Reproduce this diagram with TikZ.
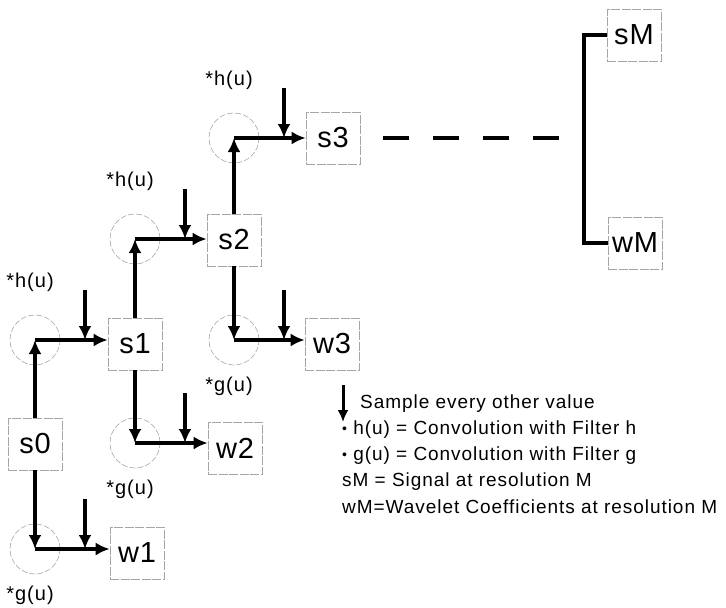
\documentclass[tikz,border=0pt]{standalone}
\usepackage{fontspec}
\setmainfont{Liberation Sans}
\newfontfamily\legendfont[LetterSpace=5]{Liberation Sans}
\newfontfamily\boxfont[LetterSpace=3]{Liberation Sans}
\usetikzlibrary{arrows.meta,positioning}

\begin{document}
\begin{tikzpicture}[
  x=1pt,y=-1pt,
  every node/.style={inner sep=0pt},
  box/.style={draw=gray!70,dash pattern=on 9pt off 1.5pt,line width=0.6pt,
    minimum width=54pt,minimum height=52pt,
    font=\boxfont\fontsize{29}{32}\selectfont},
  filt/.style={circle,draw=gray!70,dash pattern=on 6pt off 2pt,line width=0.6pt,
    minimum size=50pt},
  lbl/.style={font=\legendfont\fontsize{20}{22}\selectfont},
  legend/.style={anchor=west,font=\legendfont\fontsize{19}{21}\selectfont},
  arrow/.style={-{Latex[length=14pt,width=13pt]},line width=4.2pt},
  conn/.style={line width=4.2pt},
  gap/.style={line width=4.2pt,dash pattern=on 26pt off 24pt}
]
  \useasboundingbox (0,0) rectangle (726,608);

  % signals and wavelet coefficients
  \node[box] (s0) at (35,444) {s0};
  \node[box] (s1) at (135,344) {s1};
  \node[box] (s2) at (234,240) {s2};
  \node[box] (s3) at (333,138) {s3};
  \node[box] (w1) at (137,553) {w1};
  \node[box] (w2) at (235,448) {w2};
  \node[box] (w3) at (332,344) {w3};
  \node[box] (sM) at (634,35) {sM};
  \node[box] (wM) at (635,243) {wM};

  % filters
  \node[filt] (h1) at (35,340) {};
  \node[filt] (g1) at (35,549) {};
  \node[filt] (h2) at (135,239) {};
  \node[filt] (g2) at (135,443) {};
  \node[filt] (h3) at (234,138) {};
  \node[filt] (g3) at (234,340) {};

  \node[lbl,above=23pt of h1,xshift=-5pt] (h1lbl) {*h(u)};
  \node[lbl,above=23pt of h2,xshift=-5pt] (h2lbl) {*h(u)};
  \node[lbl,above=23pt of h3,xshift=-5pt] (h3lbl) {*h(u)};
  \node[lbl,below=12pt of g1,xshift=-5pt] (g1lbl) {*g(u)};
  \node[lbl,below=12pt of g2,xshift=-5pt] (g2lbl) {*g(u)};
  \node[lbl,below=12pt of g3,xshift=-5pt] (g3lbl) {*g(u)};

  \draw[arrow] (s0) -- (h1.center);
  \draw[arrow] (h1.center) -- (h1.center -| s1.west);
  \draw[arrow] (s0) -- (g1.center);
  \draw[arrow] (g1.center) -- (g1.center -| w1.west);
  \draw[arrow] (s1) -- (h2.center);
  \draw[arrow] (h2.center) -- (h2.center -| s2.west);
  \draw[arrow] (s1) -- (g2.center);
  \draw[arrow] (g2.center) -- (g2.center -| w2.west);
  \draw[arrow] (s2) -- (h3.center);
  \draw[arrow] (h3.center) -- (h3.center -| s3.west);
  \draw[arrow] (s2) -- (g3.center);
  \draw[arrow] (g3.center) -- (g3.center -| w3.west);

  % downsampling
  \foreach \f in {h1,g1,h2,g2,h3,g3}
    \draw[arrow] ([shift={(50,-50)}]\f.center) -- ([xshift=50pt]\f.center);

  \coordinate (gapend) at (560,138);
  \draw[gap,shorten <=23pt] (s3) -- (gapend);
  \draw[conn] (sM.west) -- ++(-23,0) |- (wM.west);

  % legend
  \coordinate (legtop) at (343,385);
  \coordinate (legbot) at (343,422);
  \draw[-{Latex[length=12pt,width=11pt]},line width=3pt] (legtop) -- (legbot);
  \node[legend] (l1) at (360,404) {Sample every other value};
  \node[legend] (l2) at (342,430)
    {\raisebox{1.5pt}{\fontsize{14}{14}\selectfont\textbullet} h(u) = Convolution with Filter h};
  \node[legend,below=25.7pt of l2.west,anchor=west] (l3)
    {\raisebox{1.5pt}{\fontsize{14}{14}\selectfont\textbullet} g(u) = Convolution with Filter g};
  \node[legend,below=25.7pt of l3.west,anchor=west] (l4) {sM = Signal at resolution M};
  \node[legend,below=25.7pt of l4.west,anchor=west] (l5)
    {wM=Wavelet Coefficients at resolution M};
\end{tikzpicture}
\end{document}
